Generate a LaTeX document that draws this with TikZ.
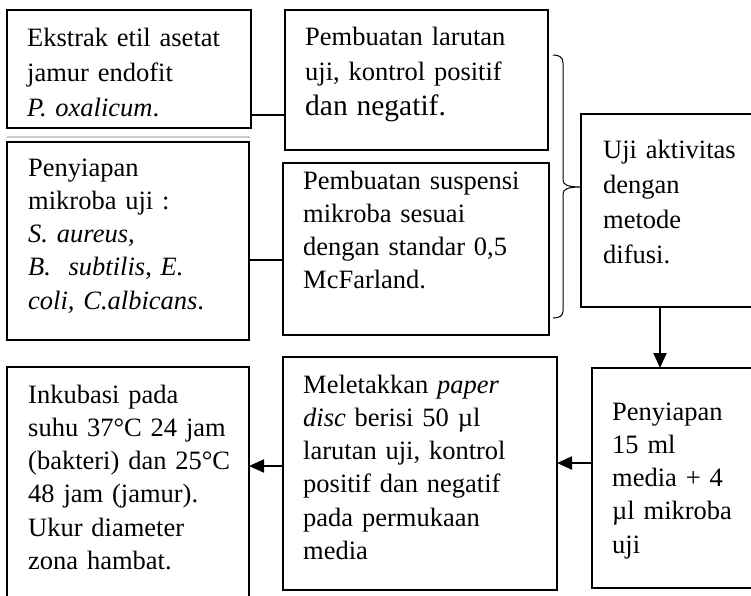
\documentclass[tikz,border=0pt]{standalone}
\usepackage{fontspec}
\setmainfont{Liberation Serif}
\usetikzlibrary{arrows.meta}
\begin{document}
\begin{tikzpicture}[x=1pt,y=-1pt,
  box/.style={draw, line width=2pt, anchor=north west, inner sep=0pt, outer sep=0pt},
  txt/.style={anchor=base west, inner sep=0pt, align=left, text width=270pt, font=\fontsize{26.5}{33.3}\selectfont},
  txtw/.style={txt, font=\fontsize{26.5}{35}\selectfont},
  link/.style={line width=2pt},
  arr/.style={line width=2pt, -{Triangle[length=15pt,width=13pt]}},
  bracepath/.style={line width=1pt}]
\fill[white] (0,0) rectangle (751,595);
\useasboundingbox (0,0) rectangle (751,595);
\clip (0,0) rectangle (751,595);
% boxes
\node[box, minimum width=244pt, minimum height=118pt] (A) at (7,10) {};
\node[box, minimum width=263pt, minimum height=140pt] (B) at (285,10) {};
\node[box, minimum width=242pt, minimum height=198pt] (C) at (7,142) {};
\node[box, minimum width=266pt, minimum height=172pt] (D) at (283,163) {};
\node[box, minimum width=174pt, minimum height=193pt] (E) at (581,114) {};
\node[box, minimum width=170pt, minimum height=220pt] (F) at (592,368) {};
\node[box, minimum width=274pt, minimum height=233pt] (G) at (283,357) {};
\node[box, minimum width=242pt, minimum height=240pt] (H) at (7,367) {};
% faint line
\coordinate (g1) at (7,137);
\coordinate (g2) at (250,137);
\draw[gray!40, line width=1.5pt] (g1) -- (g2);
% texts
\node[txtw] (tA) at (27,46) {Ekstrak etil asetat\\jamur endofit\\\textit{P. oxalicum}.};
\node[txtw] (tB) at (305,45) {Pembuatan larutan\\uji, kontrol positif\\{\fontsize{29.5}{35}\selectfont dan negatif.}};
\node[txt] (tC) at (28,176) {Penyiapan\\mikroba uji :\\\textit{S. aureus,}\\\textit{B.\ \ subtilis}, \textit{E.}\\\textit{coli, C.albicans}.};
\node[txt] (tD) at (303,189) {Pembuatan suspensi\\mikroba sesuai\\dengan standar 0,5\\McFarland.};
\node[txtw] (tE) at (603,158) {Uji aktivitas\\dengan\\metode\\difusi.};
\node[txt] (tF) at (612,420) {Penyiapan\\15 ml\\media + 4\\µl mikroba\\uji};
\node[txt] (tG) at (303,393) {Meletakkan \textit{paper}\\\textit{disc} berisi 50 µl\\larutan uji, kontrol\\positif dan negatif\\pada permukaan\\media};
\node[txt] (tH) at (28,403) {Inkubasi pada\\suhu 37°C 24 jam\\(bakteri) dan 25°C\\48 jam (jamur).\\Ukur diameter\\zona hambat.};
% connectors
\coordinate (yAB) at (0,115);
\coordinate (yCD) at (0,260);
\coordinate (xEF) at (660,0);
\coordinate (yFG) at (0,463);
\coordinate (yGH) at (0,466);
\draw[link] (A.east |- yAB) -- (B.west |- yAB);
\draw[link] (C.east |- yCD) -- (D.west |- yCD);
\draw[arr] (E.south -| xEF) -- (F.north -| xEF);
\draw[arr] (F.west |- yFG) -- (G.east |- yFG);
\draw[arr] (G.west |- yGH) -- (H.east |- yGH);
% brace
\coordinate (bs) at (553,55);
\coordinate (be) at (553,318);
\coordinate (btip) at (E.west |- 0,187);
\draw[bracepath] (bs) .. controls (559,55) and (563,57) .. (563,63) -- (563,180)
  .. controls (563,185) and (568,187) .. (btip)
  .. controls (568,187) and (563,189) .. (563,194) -- (563,311)
  .. controls (563,316) and (559,318) .. (be);
\end{tikzpicture}
\end{document}
